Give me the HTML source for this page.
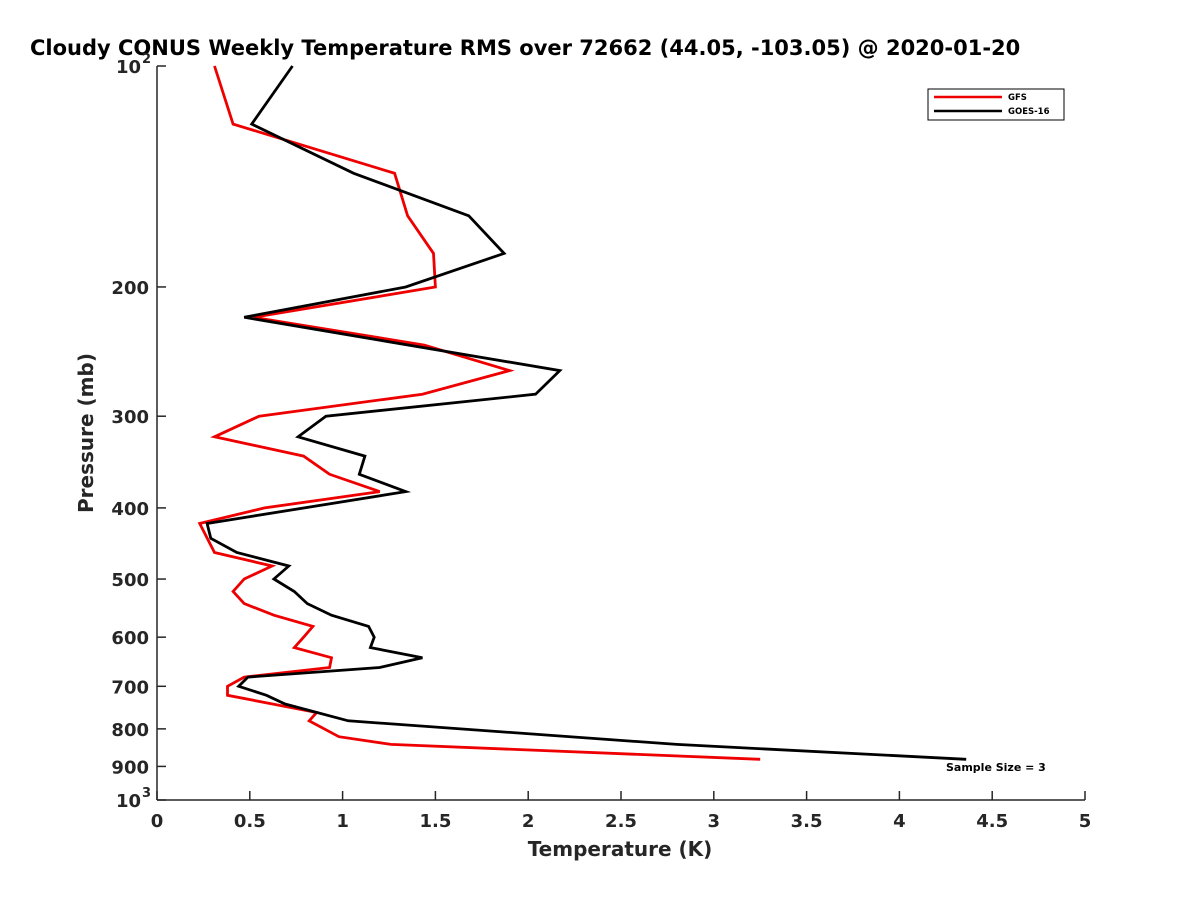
<!DOCTYPE html>
<html><head><meta charset="utf-8"><style>
body{margin:0;background:#fff;width:1200px;height:900px;overflow:hidden}
svg{display:block;font-family:"DejaVu Sans","Liberation Sans",sans-serif}
</style></head><body>
<svg id="chart" width="1200" height="900" viewBox="0 0 1200 900">
<text x="30" y="55" font-size="21" font-weight="bold" fill="#000">Cloudy CONUS Weekly Temperature RMS over 72662 (44.05, -103.05) @ 2020-01-20</text>
<g id="axes"></g>
<g id="series"></g>
<g>
<rect x="928" y="89" width="136" height="31" fill="#fff" stroke="#000" stroke-width="1"/>
<line x1="934" y1="97" x2="1002" y2="97" stroke="#e00" stroke-width="2.5"/>
<text x="1008" y="100" font-size="8.5" font-weight="bold">GFS</text>
<line x1="934" y1="111" x2="1002" y2="111" stroke="#000" stroke-width="2.5"/>
<text x="1008" y="114" font-size="8.5" font-weight="bold">GOES-16</text>
</g>
<text x="946" y="771" font-size="11" font-weight="bold">Sample Size = 3</text>
<text x="620" y="856" font-size="20" font-weight="bold" fill="#262626" text-anchor="middle">Temperature (K)</text>
<text transform="translate(93,433) rotate(-90)" font-size="20" font-weight="bold" fill="#262626" text-anchor="middle">Pressure (mb)</text>
</svg>
<script>
const xTicks=[0,0.5,1,1.5,2,2.5,3,3.5,4,4.5,5];
const xTickLabels=["0","0.5","1","1.5","2","2.5","3","3.5","4","4.5","5"];
const yTicks=[100,200,300,400,500,600,700,800,900,1000];
const yTickLabels=["10^2","200","300","400","500","600","700","800","900","10^3"];
const gfsPressure=[100,120,140,160,180,200,220,240,260,280,300,320,340,360,380,400,420,460,480,500,520,540,560,580,600,620,640,660,680,700,720,760,780,820,840,880];
const gfsTemp=[0.31,0.41,1.28,1.35,1.49,1.50,0.52,1.44,1.90,1.43,0.55,0.31,0.79,0.93,1.20,0.58,0.23,0.31,0.62,0.47,0.41,0.47,0.63,0.84,0.79,0.74,0.94,0.93,0.47,0.38,0.38,0.86,0.82,0.98,1.26,3.25];
const goesPressure=[100,120,140,160,180,200,220,260,280,300,320,340,360,380,420,440,460,480,500,520,540,560,580,600,620,640,660,680,700,720,740,780,840,880];
const goesTemp=[0.73,0.51,1.06,1.68,1.87,1.34,0.47,2.17,2.04,0.91,0.76,1.12,1.09,1.34,0.27,0.29,0.43,0.71,0.63,0.74,0.81,0.94,1.14,1.17,1.15,1.43,1.20,0.49,0.44,0.59,0.69,1.03,2.80,4.36];

const X0=157,X1=1085,Y0=66,Y1=800;
const xs=v=>X0+(v-0)/(5-0)*(X1-X0);
const ys=p=>Y0+(Math.log10(p)-2)/(3-2)*(Y1-Y0);
const NS="http://www.w3.org/2000/svg";
const axes=document.getElementById('axes'),series=document.getElementById('series');
function mk(t,attrs,parent){const e=document.createElementNS(NS,t);for(const k in attrs)e.setAttribute(k,attrs[k]);parent.appendChild(e);return e;}

let a=mk('line',{x1:X0,y1:Y0,x2:X0,y2:Y1,stroke:'#262626','stroke-width':1.5},axes);


a=mk('line',{x1:X0,y1:Y1,x2:X1,y2:Y1,stroke:'#262626','stroke-width':1.5},axes);



xTicks.forEach((v,i)=>{
 const x=xs(v);
 const t=mk('line',{x1:x,y1:Y1,x2:x,y2:Y1-9,stroke:'#262626','stroke-width':1.5},axes);
 
 
 const l=mk('text',{x:x,y:Y1+27,'font-size':18,'font-weight':'bold',fill:'#262626','text-anchor':'middle'},axes);
 l.textContent=xTickLabels[i];
 
 
});
yTicks.forEach((p,i)=>{
 const y=ys(p);
 const t=mk('line',{x1:X0,y1:y,x2:X0+9,y2:y,stroke:'#262626','stroke-width':1.5},axes);
 
 
 const lab=yTickLabels[i];
 const l=mk('text',{x:X0-8,y:y+7,'font-size':18,'font-weight':'bold',fill:'#262626','text-anchor':'end'},axes);
 
 
 if(lab.indexOf('^')>=0){
  const [b,e]=lab.split('^');
  l.setAttribute('x',X0-16);
  l.textContent=b;
  const s=mk('text',{x:X0-6,y:y-3,'font-size':13,'font-weight':'bold',fill:'#262626','text-anchor':'end'},axes);
  s.textContent=e;
  
  
 } else l.textContent=lab;
});

function drawLine(ps,ts,color,name){
 const pts=ps.map((p,i)=>xs(ts[i]).toFixed(1)+','+ys(p).toFixed(1)).join(' ');
 const pl=mk('polyline',{points:pts,fill:'none',stroke:color,'stroke-width':2.8,'stroke-linejoin':'miter'},series);
 
 
}
drawLine(gfsPressure,gfsTemp,'#e00','gfs-line');
drawLine(goesPressure,goesTemp,'#000','goes16-line');
</script>
</body></html>
